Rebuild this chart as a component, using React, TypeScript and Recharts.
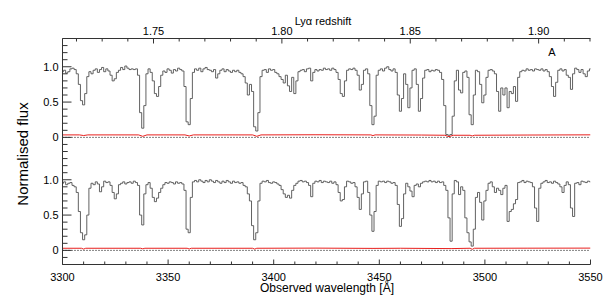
import React from 'react';
import { LineChart, Line, XAxis, YAxis, ReferenceLine } from 'recharts';

const LYA = 1215.67;
const WAVE_MIN = 3300;
const WAVE_MAX = 3550;

const waveTicks = [3300, 3310, 3320, 3330, 3340, 3350, 3360, 3370, 3380, 3390, 3400, 3410, 3420, 3430, 3440, 3450, 3460, 3470, 3480, 3490, 3500, 3510, 3520, 3530, 3540, 3550];
const zTicks = [1.72, 1.73, 1.74, 1.75, 1.76, 1.77, 1.78, 1.79, 1.80, 1.81, 1.82, 1.83, 1.84, 1.85, 1.86, 1.87, 1.88, 1.89, 1.90, 1.91, 1.92];
const fluxTicks = [-0.2, -0.1, 0, 0.1, 0.2, 0.3, 0.4, 0.5, 0.6, 0.7, 0.8, 0.9, 1.0, 1.1, 1.2, 1.3, 1.4];

// flux sampled every 1 Å from 3300 to 3550
const fluxA = [
  0.93, 0.95, 0.91, 0.93, 0.97, 0.98, 0.96, 0.90, 0.75, 0.52,
  0.46, 0.62, 0.86, 0.93, 0.90, 0.95, 0.97, 0.92, 0.96, 0.99,
  0.93, 0.97, 0.94, 0.88, 0.80, 0.83, 0.92, 0.95, 0.99, 0.96,
  1.01, 0.98, 0.96, 0.97, 0.96, 0.97, 0.88, 0.35, 0.13, 0.45,
  0.90, 0.97, 0.92, 0.80, 0.62, 0.58, 0.72, 0.88, 0.94, 0.92,
  0.97, 0.95, 0.91, 0.96, 0.94, 0.98, 0.96, 0.94, 0.72, 0.22,
  0.18, 0.55, 0.92, 0.97, 0.95, 0.98, 0.93, 0.97, 0.99, 0.96,
  0.95, 0.93, 0.96, 0.84, 0.90, 0.95, 0.97, 0.93, 0.96, 0.94,
  0.92, 0.95, 0.93, 0.95, 0.92, 0.90, 0.86, 0.77, 0.60, 0.75,
  0.65, 0.15, 0.09, 0.35, 0.86, 0.95, 0.96, 0.92, 0.97, 0.95,
  0.96, 0.92, 0.90, 0.86, 0.82, 0.77, 0.88, 0.73, 0.65, 0.85,
  0.62, 0.80, 0.93, 0.95, 0.96, 0.93, 0.97, 0.98, 0.80, 0.92,
  0.96, 0.94, 0.96, 0.95, 0.98, 0.96, 0.97, 0.95, 0.98, 0.96,
  0.92, 0.82, 0.62, 0.58, 0.80, 0.95, 0.97, 0.96, 0.98, 0.95,
  0.88, 0.67, 0.75, 0.95, 0.97, 0.90, 0.45, 0.18, 0.30, 0.88,
  0.95, 0.97, 0.94, 0.98, 1.00, 0.96, 0.94, 0.97, 0.92, 0.60,
  0.37, 0.55, 0.90, 0.75, 0.42, 0.70, 0.95, 0.97, 0.75, 0.37,
  0.55, 0.84, 0.95, 0.96, 0.93, 0.95, 0.94, 0.96, 0.95, 0.92,
  0.82, 0.45, 0.04, 0.03, 0.04, 0.30, 0.80, 0.95, 0.67, 0.63,
  0.92, 0.94, 0.85, 0.32, 0.18, 0.60, 0.95, 0.93, 0.75, 0.49,
  0.60, 0.85, 0.95, 0.96, 0.94, 0.90, 0.65, 0.37, 0.70, 0.60,
  0.70, 0.42, 0.65, 0.62, 0.72, 0.51, 0.85, 0.93, 0.95, 0.94,
  0.97, 0.95, 0.96, 0.94, 0.97, 0.96, 0.95, 0.97, 0.94, 0.96,
  0.93, 0.86, 0.72, 0.58, 0.78, 0.95, 0.97, 0.94, 0.96, 0.88,
  0.85, 0.68, 0.90, 0.98, 0.96, 0.92, 0.96, 0.90, 0.86, 0.94,
  0.97, 0.96,
];

const fluxB = [
  0.95, 0.97, 0.93, 0.95, 0.96, 0.92, 0.90, 0.82, 0.55, 0.25,
  0.15, 0.22, 0.50, 0.88, 0.95, 0.93, 0.97, 0.94, 0.83, 0.90,
  0.98, 0.96, 0.97, 0.92, 0.82, 0.73, 0.80, 0.93, 0.95, 0.97,
  0.94, 0.96, 0.97, 0.95, 0.98, 0.96, 0.92, 0.50, 0.36, 0.80,
  0.93, 0.96, 0.88, 0.75, 0.69, 0.74, 0.82, 0.88, 0.93, 0.96,
  0.95, 0.97, 0.96, 0.94, 0.97, 0.95, 0.96, 0.94, 0.85, 0.30,
  0.25, 0.75, 0.97, 0.99, 0.97, 1.00, 0.98, 0.96, 0.99, 0.97,
  1.00, 0.98, 0.96, 0.99, 0.97, 0.95, 0.98, 0.96, 0.99, 0.97,
  0.95, 0.98, 0.96, 0.97, 0.95, 0.96, 0.92, 0.90, 0.80, 0.70,
  0.35, 0.15, 0.25, 0.70, 0.95, 0.98, 0.97, 0.99, 0.96, 0.95,
  0.97, 0.96, 0.94, 0.92, 0.86, 0.80, 0.75, 0.78, 0.74, 0.85,
  0.92, 0.95, 0.98, 0.99, 0.97, 0.98, 0.96, 0.92, 0.76, 0.95,
  0.98, 0.97, 0.99, 0.96, 0.98, 0.97, 0.96, 0.98, 0.95, 0.97,
  0.93, 0.82, 0.70, 0.72, 0.90, 0.98, 0.97, 0.95, 0.96, 0.90,
  0.75, 0.58, 0.80, 0.97, 0.98, 0.82, 0.50, 0.27, 0.55, 0.92,
  0.98, 0.97, 0.98, 0.96, 0.98, 0.97, 0.95, 0.96, 0.92, 0.65,
  0.34, 0.45, 0.80, 0.95, 0.90, 0.84, 0.76, 0.92, 0.94, 0.90,
  0.95, 0.97, 0.98, 0.97, 0.99, 0.97, 0.98, 0.96, 0.98, 0.96,
  0.97, 0.92, 0.85, 0.46, 0.13, 0.80, 0.99, 0.97, 0.79, 0.90,
  0.85, 0.46, 0.25, 0.12, 0.06, 0.30, 0.75, 0.82, 0.68, 0.43,
  0.70, 0.85, 0.95, 0.97, 0.90, 0.82, 0.88, 0.85, 0.79, 0.88,
  0.92, 0.41, 0.55, 0.58, 0.66, 0.72, 0.96, 0.97, 0.99, 0.96,
  0.98, 0.97, 0.96, 0.90, 0.60, 0.41, 0.88, 0.95, 0.97, 0.99,
  0.96, 0.97, 0.95, 0.98, 0.96, 0.94, 0.90, 0.82, 0.92, 0.97,
  0.93, 0.60, 0.48, 0.95, 0.96, 0.93, 0.98, 0.97, 0.96, 0.98,
  0.97,
];

// error spectra (red), sparse points
const errWaveA = [3300, 3308, 3310, 3312, 3336, 3338, 3340, 3358, 3360, 3362, 3390, 3392, 3394, 3420, 3446, 3447, 3448, 3470, 3481, 3483, 3485, 3493, 3494, 3495, 3520, 3550];
const errA = [0.035, 0.035, 0.026, 0.035, 0.035, 0.015, 0.035, 0.035, 0.02, 0.035, 0.035, 0.015, 0.035, 0.037, 0.035, 0.025, 0.035, 0.033, 0.03, 0.01, 0.03, 0.03, 0.02, 0.03, 0.033, 0.036];
const errWaveB = [3300, 3309, 3310, 3311, 3337, 3338, 3339, 3359, 3360, 3361, 3390, 3391, 3392, 3420, 3447, 3460, 3484, 3493, 3494, 3495, 3520, 3550];
const errB = [0.03, 0.03, 0.018, 0.03, 0.03, 0.022, 0.03, 0.03, 0.02, 0.03, 0.03, 0.018, 0.03, 0.032, 0.028, 0.03, 0.025, 0.03, 0.015, 0.03, 0.031, 0.032];

const waves = fluxA.map((_, i) => WAVE_MIN + i);
const dataA = waves.map((w, i) => ({ wave: w, flux: fluxA[i] }));
const dataB = waves.map((w, i) => ({ wave: w, flux: fluxB[i] }));
const errDataA = errWaveA.map((w, i) => ({ wave: w, err: errA[i] }));
const errDataB = errWaveB.map((w, i) => ({ wave: w, err: errB[i] }));

// redshift ticks placed on the wavelength scale: lambda = (1 + z) * 1215.67
const zTickWaves = zTicks.map((z) => (1 + z) * LYA);

const AX = '#333';
const SPEC = '#505050';
const FONT = '"Liberation Sans", Arial, Helvetica, sans-serif';

const isMajorY = (v: number) => Math.abs(v * 2 - Math.round(v * 2)) < 1e-6;
const yLabel = (v: number) => (Math.abs(v) < 1e-9 ? '0' : v.toFixed(1));

const LeftTick = (p: any) => {
  const v = p.payload.value;
  const major = isMajorY(v);
  const show = major && v >= 0 && v <= 1.0;
  return (
    <g>
      <line x1={p.x} x2={p.x + (major ? 9 : 5)} y1={p.y} y2={p.y} stroke={AX} strokeWidth={1} />
      {show && (
        <text x={p.x - 4} y={p.y + 4} textAnchor="end" fontSize={11} fontFamily={FONT} fill="#000">
          {yLabel(v)}
        </text>
      )}
    </g>
  );
};

const RightTick = (p: any) => {
  const v = p.payload.value;
  const major = isMajorY(v);
  return <line x1={p.x} x2={p.x - (major ? 9 : 5)} y1={p.y} y2={p.y} stroke={AX} strokeWidth={1} />;
};

const WaveTickUp = (p: any) => {
  const v = p.payload.value;
  const major = v % 50 === 0;
  return <line x1={p.x} x2={p.x} y1={p.y} y2={p.y - (major ? 5 : 3)} stroke={AX} strokeWidth={1} />;
};

const WaveTickDown = (p: any) => {
  const v = p.payload.value;
  const major = v % 50 === 0;
  return <line x1={p.x} x2={p.x} y1={p.y} y2={p.y + (major ? 5 : 3)} stroke={AX} strokeWidth={1} />;
};

const WaveTickBottom = (p: any) => {
  const v = p.payload.value;
  const major = v % 50 === 0;
  return (
    <g>
      <line x1={p.x} x2={p.x} y1={p.y} y2={p.y - (major ? 5 : 3)} stroke={AX} strokeWidth={1} />
      {major && (
        <text x={p.x} y={p.y + 16} textAnchor="middle" fontSize={11} fontFamily={FONT} fill="#000">
          {v}
        </text>
      )}
    </g>
  );
};

const ZTick = (p: any) => {
  const z = p.payload.value / LYA - 1;
  const major = Math.round(z * 100) % 5 === 0;
  return (
    <g>
      <line x1={p.x} x2={p.x} y1={p.y} y2={p.y + (major ? 5 : 3)} stroke={AX} strokeWidth={1} />
      {major && (
        <text x={p.x} y={p.y - 4} textAnchor="middle" fontSize={11} fontFamily={FONT} fill="#000">
          {z.toFixed(2)}
        </text>
      )}
    </g>
  );
};

const Y_WIDTH = 62.5;

export default function App() {
  return (
    <div style={{ position: 'absolute', left: 0, top: 0, width: 610, height: 305, background: '#fff', fontFamily: FONT, overflow: 'hidden' }}>
      <div style={{ position: 'absolute', left: 0, top: 0 }}>
        <LineChart width={610} height={160} data={dataA} margin={{ top: 0, right: 19.5, bottom: 8.5, left: 0 }}>
          <XAxis xAxisId="z" dataKey="wave" orientation="top" type="number" domain={[WAVE_MIN, WAVE_MAX]} allowDataOverflow ticks={zTickWaves} interval={0} height={38.5} tickSize={0} tickMargin={0} tickLine={false} axisLine={{ stroke: AX }} tick={<ZTick />} />
          <XAxis xAxisId="w" dataKey="wave" orientation="bottom" type="number" domain={[WAVE_MIN, WAVE_MAX]} allowDataOverflow ticks={waveTicks} interval={0} height={0} tickSize={0} tickMargin={0} tickLine={false} axisLine={{ stroke: AX }} tick={<WaveTickUp />} />
          <YAxis yAxisId="l" orientation="left" type="number" domain={[-0.2, 1.4]} allowDataOverflow ticks={fluxTicks} interval={0} width={Y_WIDTH} tickSize={0} tickMargin={0} tickLine={false} axisLine={{ stroke: AX }} tick={<LeftTick />} />
          <YAxis yAxisId="r" orientation="right" type="number" domain={[-0.2, 1.4]} allowDataOverflow ticks={fluxTicks} interval={0} width={0} tickSize={0} tickMargin={0} tickLine={false} axisLine={{ stroke: AX }} tick={<RightTick />} />
          <ReferenceLine xAxisId="w" yAxisId="l" y={0} stroke="#000" strokeDasharray="1 2" strokeWidth={1} />
          <Line xAxisId="w" yAxisId="l" data={errDataA} dataKey="err" type="linear" stroke="#e8211f" strokeWidth={1} dot={false} isAnimationActive={false} />
          <Line xAxisId="w" yAxisId="l" dataKey="flux" type="step" stroke={SPEC} strokeWidth={0.9} dot={false} isAnimationActive={false} />
        </LineChart>
      </div>
      <div style={{ position: 'absolute', left: 0, top: 143 }}>
        <LineChart width={610} height={162} data={dataB} margin={{ top: 8.5, right: 19.5, bottom: 0, left: 0 }}>
          <XAxis xAxisId="t" dataKey="wave" orientation="top" type="number" domain={[WAVE_MIN, WAVE_MAX]} allowDataOverflow ticks={waveTicks} interval={0} height={0} tickSize={0} tickMargin={0} tickLine={false} axisLine={{ stroke: AX }} tick={<WaveTickDown />} />
          <XAxis xAxisId="w" dataKey="wave" orientation="bottom" type="number" domain={[WAVE_MIN, WAVE_MAX]} allowDataOverflow ticks={waveTicks} interval={0} height={40.5} tickSize={0} tickMargin={0} tickLine={false} axisLine={{ stroke: AX }} tick={<WaveTickBottom />} />
          <YAxis yAxisId="l" orientation="left" type="number" domain={[-0.2, 1.4]} allowDataOverflow ticks={fluxTicks} interval={0} width={Y_WIDTH} tickSize={0} tickMargin={0} tickLine={false} axisLine={{ stroke: AX }} tick={<LeftTick />} />
          <YAxis yAxisId="r" orientation="right" type="number" domain={[-0.2, 1.4]} allowDataOverflow ticks={fluxTicks} interval={0} width={0} tickSize={0} tickMargin={0} tickLine={false} axisLine={{ stroke: AX }} tick={<RightTick />} />
          <ReferenceLine xAxisId="w" yAxisId="l" y={0} stroke="#000" strokeDasharray="1 2" strokeWidth={1} />
          <Line xAxisId="w" yAxisId="l" data={errDataB} dataKey="err" type="linear" stroke="#e8211f" strokeWidth={1} dot={false} isAnimationActive={false} />
          <Line xAxisId="w" yAxisId="l" dataKey="flux" type="step" stroke={SPEC} strokeWidth={0.9} dot={false} isAnimationActive={false} />
        </LineChart>
      </div>
      <svg width={610} height={305} style={{ position: 'absolute', left: 0, top: 0, pointerEvents: 'none' }}>
        <text x={323} y={25} textAnchor="middle" fontSize={11} fontFamily={FONT} fill="#000">Lyα redshift</text>
        <text x={552} y={56} textAnchor="middle" fontSize={11} fontFamily={FONT} fill="#000">A</text>
        <text transform="translate(28,154) rotate(-90)" x={0} y={0} textAnchor="middle" fontSize={15} fontFamily={FONT} fill="#000">Normalised flux</text>
        <text x={327} y={292} textAnchor="middle" fontSize={12} fontFamily={FONT} fill="#000">Observed wavelength [Å]</text>
      </svg>
    </div>
  );
}
